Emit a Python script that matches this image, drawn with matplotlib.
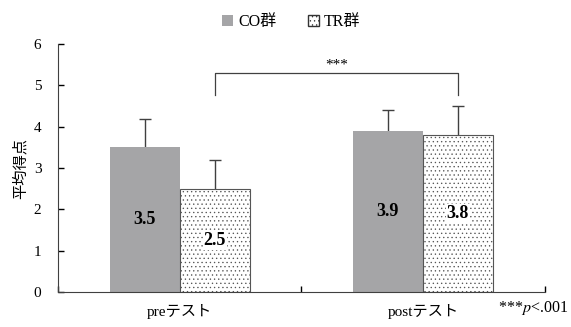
import matplotlib
matplotlib.use('Agg')
import matplotlib.pyplot as plt
from matplotlib.patches import Patch
import numpy as np

plt.rcParams['font.family'] = ['Liberation Serif', 'Noto Sans CJK JP']
plt.rcParams['mathtext.fontset'] = 'stix'
plt.rcParams['hatch.linewidth'] = 0.45
plt.rcParams['hatch.color'] = '#555555'

# data
tests = ['preテスト', 'postテスト']
co_mean = [3.5, 3.9]
co_err = [0.7, 0.5]
tr_mean = [2.5, 3.8]
tr_err = [0.7, 0.7]

fig = plt.figure(figsize=(5.71, 3.27), dpi=100)
ax = fig.add_axes([0.1016, 0.107, 0.852, 0.758])

x = np.arange(len(tests))
w = 0.288
gray = '#a5a5a7'

ax.bar(x - w / 2, co_mean, w, color=gray, edgecolor='none', zorder=2)
ax.bar(x + w / 2, tr_mean, w, color='white', edgecolor='#555555',
       hatch='....', linewidth=0.8, zorder=2)
# symmetric bars drawn underneath, so only the upper half shows
ax.errorbar(x - w / 2, co_mean, yerr=co_err, fmt='none',
            ecolor='#404040', elinewidth=1, capsize=4, capthick=1, zorder=1)
ax.errorbar(x + w / 2, tr_mean, yerr=tr_err, fmt='none',
            ecolor='#404040', elinewidth=1, capsize=4, capthick=1, zorder=1)

for xi, v in zip(x - w / 2, co_mean):
    ax.text(xi, v / 2, f'{v:.1f}', ha='center', va='center', fontsize=13,
            fontweight='bold', zorder=4)
for xi, v in zip(x + w / 2, tr_mean):
    ax.text(xi, v / 2, f'{v:.1f}', ha='center', va='center', fontsize=13,
            fontweight='bold', zorder=4,
            bbox=dict(facecolor='white', edgecolor='none', pad=0.5))

# significance bracket
x1, x2 = x[0] + w / 2, x[1] + w / 2
ax.plot([x1, x1, x2, x2], [4.77, 5.3, 5.3, 4.77], color='#404040', lw=0.9)
ax.text((x1 + x2) / 2, 5.5, '***', ha='center', va='center', fontsize=11)

ax.set_xlim(-0.5, 1.5)
ax.set_ylim(0, 6)
ax.set_yticks(range(7))
ax.set_xticks([-0.5, 0.5, 1.5])
ax.set_xticklabels([])
ax.tick_params(axis='x', direction='in', length=4, width=1)
ax.tick_params(axis='y', direction='in', length=4, width=1, labelsize=11, pad=12)
for xi, lab in zip(x, tests):
    ax.text(xi, -0.3, lab, ha='center', va='top', fontsize=11)
ax.spines[['top', 'right']].set_visible(False)
ax.spines['left'].set_color('#404040')
ax.spines['bottom'].set_color('#404040')
ax.set_ylabel('平均得点', fontsize=11, labelpad=4)

fig.text(0.995, 0.03, r'***$\it{p}$<.001', ha='right', va='bottom', fontsize=11.5)

handles = [Patch(facecolor=gray, edgecolor='none', label='CO群'),
           Patch(facecolor='white', edgecolor='#333333', hatch='....', label='TR群')]
fig.legend(handles=handles, loc='upper center', bbox_to_anchor=(0.51, 1.0),
           ncol=2, frameon=False, fontsize=11.5, handlelength=0.7,
           handleheight=0.7, handletextpad=0.3, columnspacing=2.0)

fig.savefig('out.png', dpi=100)
